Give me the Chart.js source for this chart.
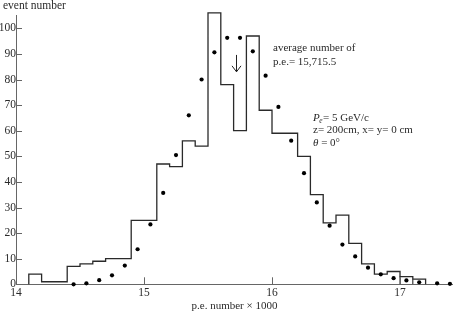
<!DOCTYPE html>
<html>
<head>
<meta charset="utf-8">
<script src="https://cdn.jsdelivr.net/npm/chart.js@4"></script>
<style>
html,body{margin:0;padding:0;background:#fff;}
#wrap{width:453px;height:314px;}
</style>
</head>
<body>
<div id="wrap"><canvas id="c" width="453" height="314"></canvas></div>
<script>
// ---- data ----
const binEdges = [14.1,14.2,14.3,14.4,14.5,14.6,14.7,14.8,14.9,15.0,15.1,15.2,15.3,15.4,15.5,15.6,15.7,15.8,15.9,16.0,16.1,16.2,16.3,16.4,16.5,16.6,16.7,16.8,16.9,17.0,17.1,17.2];
const binCounts = [4,1,1,7,8,9,10,10,25,25,47,46,56,54,106,78,60,97,68,59,59,50,35,24,27,16,8,4,5,3,2];
const tailDividers = [17.0, 17.1];
const dotX = [14.45,14.55,14.65,14.75,14.85,14.95,15.05,15.15,15.25,15.35,15.45,15.55,15.65,15.75,15.85,15.95,16.05,16.15,16.25,16.35,16.45,16.55,16.65,16.75,16.85,16.95,17.05,17.15,17.29,17.39];
const dotY = [0,0.4,1.6,3.5,7.3,13.7,23.4,35.7,50.5,66,80,90.6,96.3,96.3,91,81.5,69.3,56.1,43.4,32,22.9,15.5,10.9,6.5,3.9,2.4,1.5,0.8,0.4,0.2];
const xTicks = [14,15,16,17];
const yTicks = [0,10,20,30,40,50,60,70,80,90,100];
const avgPE = 15.7155;
const xTitle = "p.e. number \u00d7 1000";
const yTitle = "event number";

// ---- build tables ----
const stepPts = [{x: binEdges[0], y: 0}];
for (let i = 0; i < binCounts.length; i++) stepPts.push({x: binEdges[i], y: binCounts[i]});
stepPts.push({x: binEdges[binEdges.length - 1], y: 0});

const dividerPts = [];
tailDividers.forEach(xv => {
  const i = binEdges.indexOf(xv);
  dividerPts.push({x: xv, y: 0}, {x: xv, y: binCounts[i]}, {x: xv, y: null});
});

const dots = dotX.map((x, i) => ({x: x, y: dotY[i]}));

const FONT = "'Liberation Serif', 'Times New Roman', serif";
const TXT = '#2a2a2a';
const AX = '#666';

const decor = {
  id: 'decor',
  afterDraw(chart) {
    const ctx = chart.ctx;
    const xs = chart.scales.x, ys = chart.scales.y;
    const a = chart.chartArea;
    ctx.save();
    // inward tick marks
    ctx.strokeStyle = AX; ctx.lineWidth = 1;
    ctx.beginPath();
    yTicks.forEach(v => { const p = Math.round(ys.getPixelForValue(v)) + 0.5; if (v !== 0) { ctx.moveTo(a.left, p); ctx.lineTo(a.left + 6, p); } });
    xTicks.forEach(v => { const p = Math.round(xs.getPixelForValue(v)) + 0.5; if (v !== 14) { ctx.moveTo(p, a.bottom); ctx.lineTo(p, a.bottom - 7); } });
    ctx.stroke();
    // y title at top
    ctx.fillStyle = TXT;
    ctx.font = '11.5px ' + FONT;
    ctx.textBaseline = 'middle';
    ctx.textAlign = 'left';
    ctx.fillText(yTitle, 3, 6);
    // arrow at average
    const ax = Math.round(xs.getPixelForValue(avgPE)) + 0.5;
    const y1 = ys.getPixelForValue(89.6), y2 = ys.getPixelForValue(83);
    ctx.strokeStyle = '#222'; ctx.lineWidth = 1;
    ctx.beginPath();
    ctx.moveTo(ax, y1); ctx.lineTo(ax, y2);
    ctx.moveTo(ax - 4.5, y2 - 6); ctx.lineTo(ax, y2); ctx.lineTo(ax + 4.5, y2 - 6);
    ctx.stroke();
    // annotations
    ctx.fillStyle = TXT;
    ctx.font = '11px ' + FONT;
    ctx.fillText('average number of', 273, 48);
    ctx.fillText('p.e.= 15,715.5', 273, 62);
    let x0 = 313;
    ctx.font = 'italic 11px ' + FONT;
    ctx.fillText('P', x0, 118);
    let w = ctx.measureText('P').width;
    ctx.font = 'italic 7.5px ' + FONT;
    ctx.fillText('e', x0 + w - 0.5, 121);
    let w2 = ctx.measureText('e').width;
    ctx.font = '11px ' + FONT;
    ctx.fillText('= 5 GeV/c', x0 + w + w2, 118);
    ctx.fillText('z= 200cm, x= y= 0 cm', x0, 130.5);
    ctx.font = 'italic 11px ' + FONT;
    ctx.fillText('\u03b8', x0, 143);
    w = ctx.measureText('\u03b8').width;
    ctx.font = '11px ' + FONT;
    ctx.fillText(' = 0\u00b0', x0 + w, 143);
    ctx.restore();
  }
};

new Chart(document.getElementById('c'), {
  type: 'scatter',
  data: {
    datasets: [
      {
        type: 'line', data: stepPts, stepped: 'before',
        borderColor: '#2a2a2a', borderWidth: 1.3, pointRadius: 0, fill: false, clip: false, order: 2
      },
      {
        type: 'line', data: dividerPts, spanGaps: false,
        borderColor: '#2a2a2a', borderWidth: 1.1, pointRadius: 0, fill: false, order: 3
      },
      {
        data: dots, backgroundColor: '#000', borderColor: '#000', pointRadius: 2.1, borderWidth: 0, order: 1, clip: false
      }
    ]
  },
  options: {
    responsive: false,
    animation: false,
    layout: {autoPadding: false, padding: {top: 15, left: 0, right: 0, bottom: 0}},
    plugins: {legend: {display: false}, tooltip: {enabled: false}},
    scales: {
      x: {
        type: 'linear', min: 14, max: 17.414,
        afterBuildTicks: s => { s.ticks = xTicks.map(v => ({value: v})); },
        afterFit: s => { s.height = 29.7; },
        grid: {display: false, drawTicks: false},
        border: {display: true, color: AX, width: 1},
        ticks: {color: TXT, font: {family: FONT, size: 11.5}, padding: 2, maxRotation: 0, autoSkip: false},
        title: {display: true, text: xTitle, color: TXT, font: {family: FONT, size: 11}, padding: {top: 0, bottom: 1}}
      },
      y: {
        type: 'linear', min: 0, max: 105.2,
        afterBuildTicks: s => { s.ticks = yTicks.map(v => ({value: v})); },
        afterFit: s => { s.width = 16; },
        grid: {display: false, drawTicks: false},
        border: {display: true, color: AX, width: 1},
        ticks: {color: TXT, font: {family: FONT, size: 11.5}, padding: 0, autoSkip: false}
      }
    }
  },
  plugins: [decor]
});
</script>
</body>
</html>
